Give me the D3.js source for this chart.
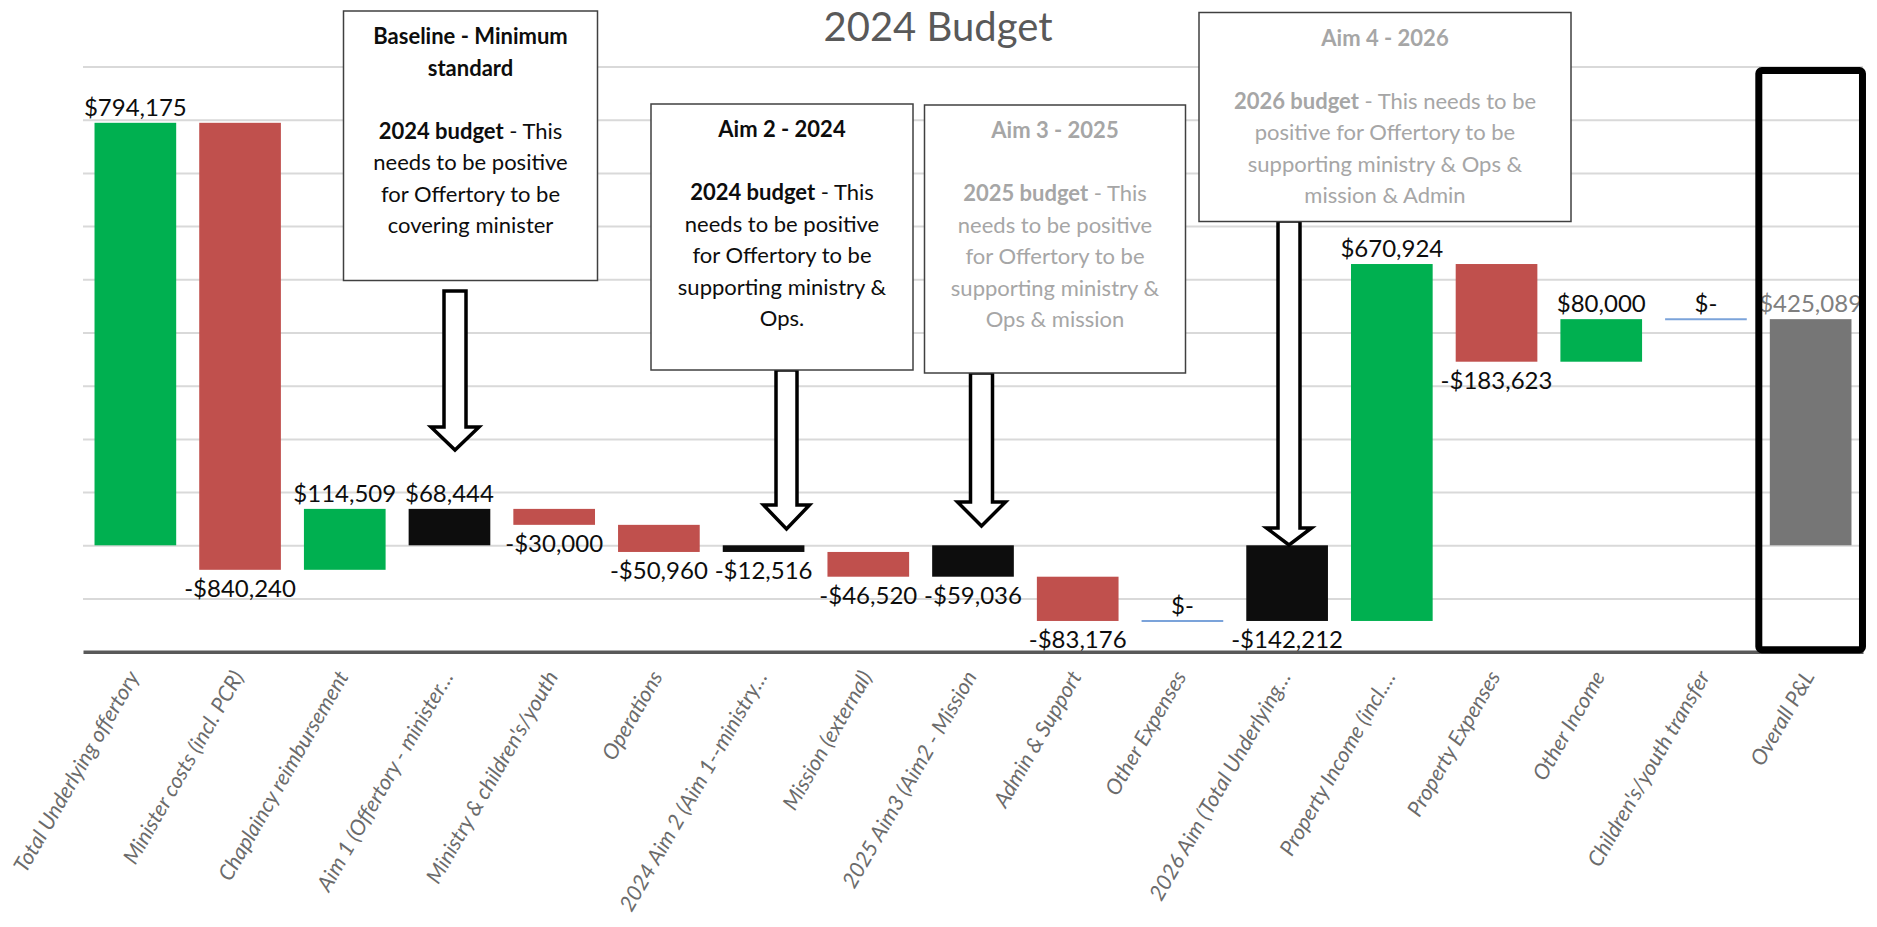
<!DOCTYPE html>
<html>
<head>
<meta charset="utf-8">
<script src="https://cdn.jsdelivr.net/npm/d3@7"></script>
<style>
  body { margin: 0; background: #fff; }
  text { font-family: Lato, "Liberation Sans", sans-serif; }
</style>
</head>
<body>
<svg id="chart"></svg>
<script>
// chart data
const categories = ["Total Underlying offertory", "Minister costs (incl. PCR)", "Chaplaincy reimbursement",
  "Aim 1 (Offertory - minister…", "Ministry & children's/youth", "Operations", "2024 Aim 2 (Aim 1--ministry…",
  "Mission (external)", "2025 Aim3 (Aim2 - Mission", "Admin & Support", "Other Expenses",
  "2026 Aim (Total Underlying…", "Property Income (incl.…", "Property Expenses", "Other Income",
  "Children's/youth transfer", "Overall P&L"];
const values = [794175, -840240, 114509, 68444, -30000, -50960, -12516, -46520, -59036, -83176, 0,
  -142212, 670924, -183623, 80000, 0, 425089];
// step = floating change, subtotal = black bar from zero, total = grey end bar
const kinds = ["step", "step", "step", "subtotal", "step", "step", "subtotal", "step", "subtotal", "step", "step",
  "subtotal", "step", "step", "step", "step", "total"];
const gridValues = [-100000, 0, 100000, 200000, 300000, 400000, 500000, 600000, 700000, 800000, 900000];
const axisFloor = -200000;

// annotation text, one entry per call-out box: [text, bold]
const noteLines = [
  [[["Baseline - Minimum", 1]], [["standard", 1]], [], [["2024 budget", 1], [" - This", 0]],
   [["needs to be positive", 0]], [["for Offertory to be", 0]], [["covering minister", 0]]],
  [[["Aim 2 - 2024", 1]], [], [["2024 budget", 1], [" - This", 0]], [["needs to be positive", 0]],
   [["for Offertory to be", 0]], [["supporting ministry &", 0]], [["Ops.", 0]]],
  [[["Aim 3 - 2025", 1]], [], [["2025 budget", 1], [" - This", 0]], [["needs to be positive", 0]],
   [["for Offertory to be", 0]], [["supporting ministry &", 0]], [["Ops & mission", 0]]],
  [[["Aim 4 - 2026", 1]], [], [["2026 budget", 1], [" - This needs to be", 0]], [["positive for Offertory to be", 0]],
   [["supporting ministry & Ops &", 0]], [["mission & Admin", 0]]]
];
const noteColors = ["#0d0d0d", "#0d0d0d", "#a6a6a6", "#a6a6a6"];

const width = 1877, height = 927;
const svg = d3.select("#chart").attr("width", width).attr("height", height);

const x = d3.scaleBand().domain(categories).range([83, 1863]).paddingInner(0.22).paddingOuter(0.11);
const y = d3.scaleLinear().domain([axisFloor, 900000]).range([651.7, 66.5]);

// build waterfall pieces
let run = 0;
const bars = categories.map((c, i) => {
  const v = values[i], k = kinds[i];
  let a, b;
  if (k === "step") { a = run; run += v; b = run; }
  else { a = 0; b = v; }
  return {c: c, v: v, k: k, lo: Math.min(a, b), hi: Math.max(a, b), end: b};
});

const fmt = d3.format(",");
function label(v) {
  if (v === 0) return "$-";
  return (v < 0 ? "-$" : "$") + fmt(Math.abs(v));
}
function colour(d) {
  if (d.k === "subtotal") return "#0d0d0d";
  if (d.k === "total") return "#767676";
  return d.v > 0 ? "#00b050" : "#c0504d";
}

// title
svg.append("text")
  .attr("x", 938).attr("y", 41)
  .attr("text-anchor", "middle")
  .attr("fill", "#595959")
  .style("font-size", "40px")
  .text("2024 Budget");

// gridlines
svg.append("g")
  .attr("transform", "translate(83,0)")
  .call(d3.axisLeft(y).tickValues(gridValues).tickSize(-(1863 - 83)).tickFormat(""))
  .call(g => g.select(".domain").remove())
  .selectAll("line").attr("stroke", "#d9d9d9").attr("stroke-width", 2);

// bars
svg.append("g").selectAll("rect")
  .data(bars.filter(d => d.v !== 0))
  .enter().append("rect")
  .attr("x", d => x(d.c))
  .attr("width", x.bandwidth())
  .attr("y", d => y(d.hi))
  .attr("height", d => y(d.lo) - y(d.hi))
  .attr("fill", colour);

// zero steps drawn as thin connector lines
svg.append("g").selectAll("line")
  .data(bars.filter(d => d.v === 0))
  .enter().append("line")
  .attr("x1", d => x(d.c)).attr("x2", d => x(d.c) + x.bandwidth())
  .attr("y1", d => y(d.end)).attr("y2", d => y(d.end))
  .attr("stroke", "#7ba3da").attr("stroke-width", 2);

// value labels
svg.append("g").selectAll("text")
  .data(bars)
  .enter().append("text")
  .attr("x", d => x(d.c) + x.bandwidth() / 2)
  .attr("y", d => d.v >= 0 ? y(d.hi) - 7 : y(d.lo) + 27)
  .attr("text-anchor", "middle")
  .attr("fill", d => d.k === "total" ? "#7f7f7f" : "#0d0d0d")
  .style("font-size", "24px")
  .text(d => label(d.v));

// category axis
const xAxis = svg.append("g")
  .attr("transform", `translate(0,${y(axisFloor)})`)
  .call(d3.axisBottom(x).tickSize(0).tickSizeOuter(0));
xAxis.select(".domain").attr("stroke", "#595959").attr("stroke-width", 3.5);
xAxis.selectAll("text")
  .attr("x", 0).attr("y", 0).attr("dy", "0.35em")
  .attr("transform", "translate(-2,21) rotate(-60)")
  .attr("text-anchor", "end")
  .attr("fill", "#6b6b6b")
  .style("font-size", "21.5px")
  .style("font-style", "italic");

// arrows from call-outs down to the aim bars
const arrows = [
  {cx: 455, top: 291, head: 427, tip: 450, sw: 11, hw: 24},
  {cx: 786.5, top: 370, head: 505, tip: 529, sw: 10.5, hw: 23},
  {cx: 981.5, top: 373, head: 502, tip: 526, sw: 11, hw: 24},
  {cx: 1289, top: 221, head: 528, tip: 545, sw: 11, hw: 22.5}
];
svg.append("g").selectAll("path")
  .data(arrows)
  .enter().append("path")
  .attr("d", a => `M${a.cx - a.sw},${a.top}L${a.cx + a.sw},${a.top}L${a.cx + a.sw},${a.head}` +
    `L${a.cx + a.hw},${a.head}L${a.cx},${a.tip}L${a.cx - a.hw},${a.head}L${a.cx - a.sw},${a.head}Z`)
  .attr("fill", "#fff").attr("stroke", "#000").attr("stroke-width", 3.5);

// call-out boxes
const boxes = [
  {x: 343.5, y: 11, w: 254, h: 269.5},
  {x: 651, y: 104, w: 262, h: 266},
  {x: 924.5, y: 105, w: 261, h: 268},
  {x: 1199, y: 12.5, w: 372, h: 209}
];
boxes.forEach((b, i) => {
  const g = svg.append("g");
  g.append("rect")
    .attr("x", b.x).attr("y", b.y).attr("width", b.w).attr("height", b.h)
    .attr("fill", "#fff").attr("stroke", "#404040").attr("stroke-width", 1.5);
  const t = g.selectAll("text")
    .data(noteLines[i])
    .enter().append("text")
    .attr("x", b.x + b.w / 2)
    .attr("y", (d, j) => b.y + 33 + j * 31.5)
    .attr("text-anchor", "middle")
    .attr("fill", noteColors[i])
    .style("font-size", "22px");
  t.selectAll("tspan")
    .data(d => d)
    .enter().append("tspan")
    .style("font-weight", s => s[1] ? "bold" : "normal")
    .text(s => s[0]);
});

// heavy frame round the overall result
const last = categories[categories.length - 1];
svg.append("rect")
  .attr("x", x(last) - 11).attr("y", 70.5)
  .attr("width", x.bandwidth() + 22).attr("height", y(axisFloor) - 70.5 - 2)
  .attr("rx", 3)
  .attr("fill", "none").attr("stroke", "#000").attr("stroke-width", 7);
</script>
</body>
</html>
